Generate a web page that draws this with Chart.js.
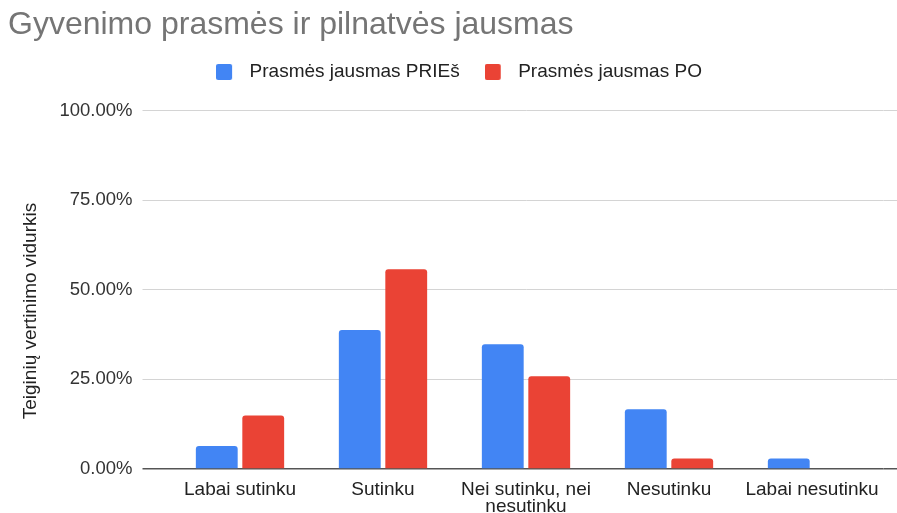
<!DOCTYPE html>
<html lang="lt">
<head>
<meta charset="utf-8">
<title>Gyvenimo prasmės ir pilnatvės jausmas</title>
<script src="https://cdn.jsdelivr.net/npm/chart.js@4.4.1/dist/chart.umd.min.js"></script>
<style>
  html, body { margin: 0; padding: 0; background: #fff; overflow: hidden; }
  #wrap { width: 897px; height: 513px; position: relative; }
</style>
</head>
<body>
<div id="wrap"><canvas id="chart"></canvas></div>
<script>
// answers to the statement, before and after
const categories = [
    'Labai sutinku',
    'Sutinku',
    ['Nei sutinku, nei', 'nesutinku'],
    'Nesutinku',
    'Labai nesutinku'
];
const priesValues = [6.4, 38.8, 34.8, 16.7, 2.9];
const poValues = [14.9, 55.7, 25.9, 2.9, 0];
const yTicks = [0, 25, 50, 75, 100];
const colors = ['#4285F4', '#EA4335'];

const FONT = "'Liberation Sans', Arial, sans-serif";
Chart.defaults.font.family = FONT;

// legend square with some empty room on its right, so the label sits further out
function swatch(color) {
    const c = document.createElement('canvas');
    c.width = 24;
    c.height = 16;
    const g = c.getContext('2d');
    g.fillStyle = color;
    g.beginPath();
    g.roundRect(0, 0, 16, 16, 2);
    g.fill();
    return c;
}
const swatches = colors.map(swatch);

// chart title and y-axis title, drawn by hand at fixed spots
const titles = {
    id: 'titles',
    afterDraw(chart) {
        const ctx = chart.ctx;
        ctx.save();
        ctx.font = '32px ' + FONT;
        ctx.fillStyle = '#757575';
        ctx.textAlign = 'left';
        ctx.textBaseline = 'alphabetic';
        ctx.fillText('Gyvenimo prasmės ir pilnatvės jausmas', 8, 33.5);

        ctx.translate(36, 311);
        ctx.rotate(-Math.PI / 2);
        ctx.font = '19px ' + FONT;
        ctx.fillStyle = '#222';
        ctx.textAlign = 'center';
        ctx.fillText('Teiginių vertinimo vidurkis', 0, 0);
        ctx.restore();
    }
};

// fixed height for the legend block so the plot starts lower down
const legendHeight = {
    id: 'legendHeight',
    beforeLayout(chart) {
        const legend = chart.legend;
        if (!legend || legend._patched) return;
        const fit = legend.fit;
        legend.fit = function () {
            fit.call(this);
            this.height = 73;
        };
        legend._patched = true;
    }
};

// horizontal gridlines run on to the right edge of the canvas
const gridToEdge = {
    id: 'gridToEdge',
    beforeDatasetsDraw(chart) {
        const { ctx, chartArea, scales } = chart;
        ctx.save();
        scales.y.ticks.forEach(t => {
            const w = t.value === 0 ? 1.5 : 1;
            const y = Math.round(scales.y.getPixelForValue(t.value) - w / 2) + w / 2;
            ctx.beginPath();
            ctx.strokeStyle = t.value === 0 ? '#555' : '#d4d4d4';
            ctx.lineWidth = w;
            ctx.moveTo(chartArea.right, y);
            ctx.lineTo(chart.width, y);
            ctx.stroke();
        });
        ctx.restore();
    }
};

new Chart(document.getElementById('chart'), {
    type: 'bar',
    data: {
        labels: categories,
        datasets: [
            {
                label: 'Prasmės jausmas PRIEš',
                data: priesValues,
                backgroundColor: colors[0]
            },
            {
                label: 'Prasmės jausmas PO',
                data: poValues,
                backgroundColor: colors[1]
            }
        ]
    },
    options: {
        responsive: true,
        maintainAspectRatio: false,
        animation: false,
        layout: { padding: { left: 21, right: 0, top: 37.5, bottom: 0 } },
        datasets: {
            bar: {
                categoryPercentage: 0.65,
                barPercentage: 0.9,
                borderRadius: 3
            }
        },
        plugins: {
            title: { display: false },
            legend: {
                position: 'top',
                labels: {
                    color: '#222',
                    font: { size: 19 },
                    usePointStyle: true,
                    pointStyleWidth: 24,
                    boxHeight: 16,
                    padding: 25,
                    generateLabels: chart =>
                        Chart.defaults.plugins.legend.labels.generateLabels(chart)
                            .map((item, i) => ({ ...item, pointStyle: swatches[i] }))
                }
            },
            tooltip: { enabled: false }
        },
        scales: {
            x: {
                grid: { display: false, drawTicks: false },
                border: { display: false },
                ticks: {
                    color: '#222',
                    font: { size: 19, lineHeight: 0.9 },
                    padding: 12,
                    maxRotation: 0,
                    autoSkip: false
                },
                afterFit: s => { s.height = 44; }
            },
            y: {
                min: 0,
                max: 100,
                afterBuildTicks: s => { s.ticks = yTicks.map(v => ({ value: v })); },
                border: { display: false },
                grid: {
                    tickLength: 26,
                    color: c => c.tick.value === 0 ? '#555' : '#d4d4d4',
                    tickColor: c => c.tick.value === 0 ? '#555' : '#d4d4d4',
                    lineWidth: c => c.tick.value === 0 ? 1.5 : 1
                },
                ticks: {
                    color: '#333',
                    font: { size: 18.5 },
                    padding: 10,
                    callback: v => v.toFixed(2) + '%'
                },
                afterFit: s => { s.width = 147.5; }
            },
            pad: {
                type: 'linear',
                position: 'right',
                ticks: { display: false },
                grid: { display: false, drawTicks: false },
                border: { display: false },
                afterFit: s => { s.width = 13.5; }
            }
        }
    },
    plugins: [gridToEdge, titles, legendHeight]
});
</script>
</body>
</html>
